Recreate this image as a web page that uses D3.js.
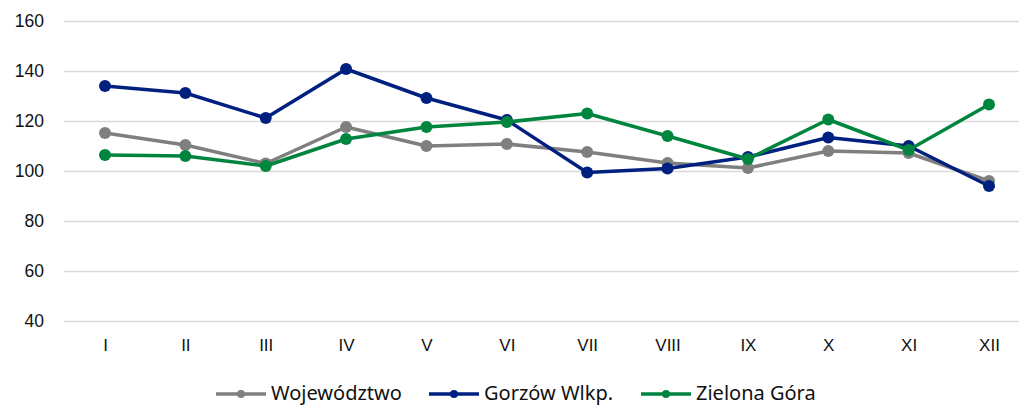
<!DOCTYPE html>
<html>
<head>
<meta charset="utf-8">
<script src="https://cdn.jsdelivr.net/npm/d3@7"></script>
<style>
  body { margin: 0; background: #fff; }
  svg { display: block; font-family: "Noto Sans", "Open Sans", sans-serif; }
</style>
</head>
<body>
<svg width="1019" height="407"></svg>
<script>
const months = ["I", "II", "III", "IV", "V", "VI", "VII", "VIII", "IX", "X", "XI", "XII"];
const wojewodztwo = [115.2, 110.4, 103, 117.6, 110, 110.8, 107.6, 103.2, 101.2, 108, 107.2, 96];
const gorzow = [134, 131.2, 121.2, 140.8, 129.2, 120.4, 99.4, 101, 105.6, 113.4, 110, 94];
const zielona = [106.4, 106, 102, 112.8, 117.6, 119.6, 123, 114, 104.8, 120.6, 108.4, 126.6];
const yTicks = [40, 60, 80, 100, 120, 140, 160];

const series = [
    { name: "Województwo", color: "#7f7f7f", values: wojewodztwo },
    { name: "Gorzów Wlkp.", color: "#00207f", values: gorzow },
    { name: "Zielona Góra", color: "#00853f", values: zielona }
];

const width = 1019;
const svg = d3.select("svg");

const x = d3.scalePoint()
    .domain(months)
    .range([105, 989]);

const y = d3.scaleLinear()
    .domain([40, 160])
    .range([321, 21]);

// gridlines + y labels
const yAxis = g => g
    .attr("transform", "translate(64,0)")
    .call(d3.axisLeft(y).tickValues(yTicks).tickSize(-(width - 64)).tickPadding(20))
    .call(g => g.select(".domain").remove())
    .call(g => g.selectAll(".tick line").attr("stroke", "#d9d9d9").attr("stroke-width", 1.5))
    .call(g => g.selectAll(".tick text").attr("fill", "#111").style("font-size", "17.5px"));

svg.append("g").call(yAxis);

// x labels
const xAxis = g => g
    .attr("transform", "translate(0,335)")
    .call(d3.axisBottom(x).tickSize(0).tickPadding(4))
    .call(g => g.select(".domain").remove())
    .call(g => g.selectAll(".tick text").attr("fill", "#111").style("font-size", "17px"));

svg.append("g").call(xAxis);

const line = d3.line()
    .x((d, i) => x(months[i]))
    .y(d => y(d));

series.forEach(s => {
    svg.append("path")
        .attr("d", line(s.values))
        .attr("fill", "none")
        .attr("stroke", s.color)
        .attr("stroke-width", 3.5)
        .attr("stroke-linejoin", "round");

    svg.append("g")
        .attr("fill", s.color)
    .selectAll("circle")
    .data(s.values)
    .enter().append("circle")
        .attr("cx", (d, i) => x(months[i]))
        .attr("cy", d => y(d))
        .attr("r", 6);
});

// legend
const legendX = [216, 429, 641];
const legend = svg.append("g");
series.forEach((s, i) => {
    const g = legend.append("g").attr("transform", `translate(${legendX[i]},394)`);
    g.append("line")
        .attr("x1", 0).attr("x2", 50)
        .attr("stroke", s.color).attr("stroke-width", 3.5);
    g.append("circle")
        .attr("cx", 25).attr("r", 4)
        .attr("fill", s.color);
    g.append("text")
        .attr("x", 55)
        .attr("dy", "0.3em")
        .attr("fill", "#111")
        .style("font-size", "20px")
        .text(s.name);
});
</script>
</body>
</html>
